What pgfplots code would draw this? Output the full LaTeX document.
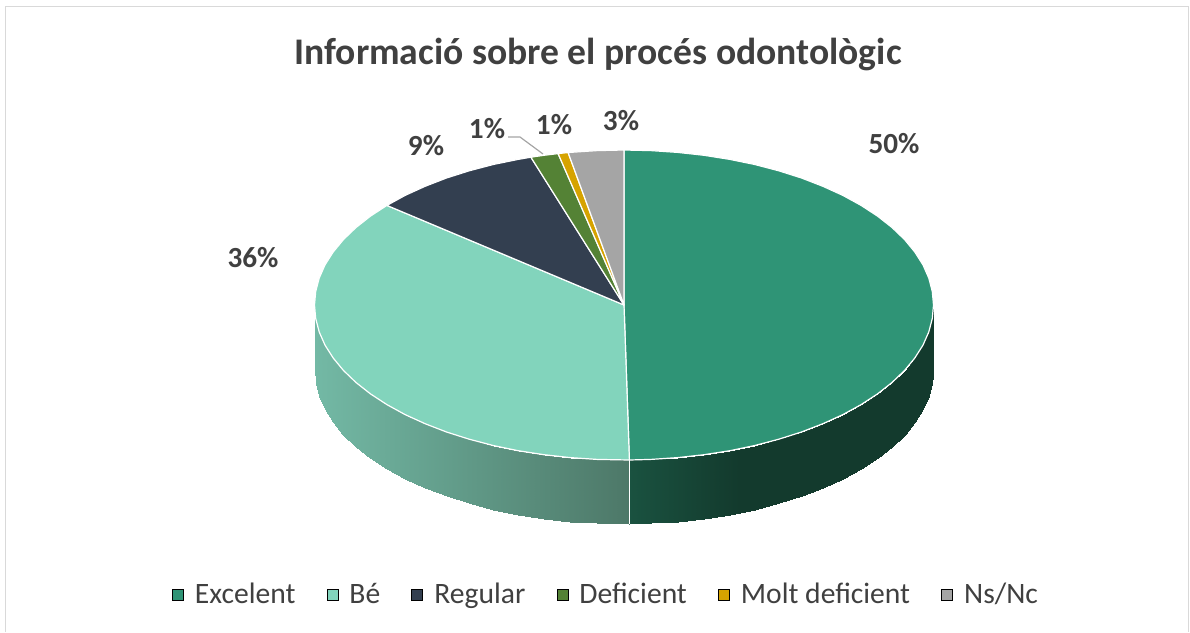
\documentclass[border=0pt]{standalone}
\usepackage{pgfplots}
\pgfplotsset{compat=1.18}
\usepackage{fontspec}
\setmainfont{Carlito}
\definecolor{cExc}{RGB}{47,148,118}
\definecolor{cBe}{RGB}{130,212,188}
\definecolor{cReg}{RGB}{51,63,80}
\definecolor{cDef}{RGB}{84,130,53}
\definecolor{cMolt}{RGB}{214,163,0}
\definecolor{cNs}{RGB}{165,165,165}
\definecolor{txt}{RGB}{64,64,64}
\definecolor{bord}{RGB}{217,217,217}
\pgfplotsset{
  colormap={excwall}{rgb255(0)=(26,82,64) rgb255(110)=(19,58,45) rgb255(305)=(19,58,45)},
  colormap={bewall}{rgb255(0)=(115,185,165) rgb255(315)=(77,120,104)},
  wedge/.style={draw=white,line width=0.6pt,line join=round},
}
\begin{document}
\begin{tikzpicture}
\begin{axis}[
  scale only axis,width=595pt,height=316pt,
  xmin=0,xmax=1190,ymin=0,ymax=632,y dir=reverse,
  hide axis,clip=false,
  point meta rel=per plot,
  legend columns=6,
  legend cell align=left,
  legend style={at={(axis cs:607.5,595)},anchor=center,draw=none,fill=none,
    font=\fontsize{14.8}{16}\selectfont\color{txt},inner sep=0pt,
    /tikz/every even column/.append style={column sep=13.1pt},
    /tikz/every odd column/.append style={column sep=0pt},
    nodes={inner xsep=2.5pt,inner ysep=1pt}},
  legend image code/.code={\fill[#1] (0pt,-2.75pt) rectangle (5.5pt,2.75pt);\path (0pt,0pt) (8.5pt,0pt);},
]
% frame
\addplot[bord,line width=0.9pt,forget plot] coordinates {(5.5,632)(5.5,6.5)(1188.5,6.5)(1188.5,632)};
% side walls
\addplot[patch,patch type=rectangle,shader=interp,colormap name=excwall,point meta=x,point meta min=629.4,point meta max=934.4,forget plot] coordinates {
(933.5,305)(932.3,318.5)(932.3,382.5)(933.5,369)
(932.3,318.5)(928.8,331.9)(928.8,395.9)(932.3,382.5)
(928.8,331.9)(923.0,345.1)(923.0,409.1)(928.8,395.9)
(923.0,345.1)(914.8,358.0)(914.8,422.0)(923.0,409.1)
(914.8,358.0)(904.5,370.5)(904.5,434.5)(914.8,422.0)
(904.5,370.5)(892.0,382.5)(892.0,446.5)(904.5,434.5)
(892.0,382.5)(877.5,393.9)(877.5,457.9)(892.0,446.5)
(877.5,393.9)(861.1,404.6)(861.1,468.6)(877.5,457.9)
(861.1,404.6)(842.9,414.6)(842.9,478.6)(861.1,468.6)
(842.9,414.6)(822.9,423.7)(822.9,487.7)(842.9,478.6)
(822.9,423.7)(801.5,432.0)(801.5,496.0)(822.9,487.7)
(801.5,432.0)(778.8,439.2)(778.8,503.2)(801.5,496.0)
(778.8,439.2)(754.8,445.5)(754.8,509.5)(778.8,503.2)
(754.8,445.5)(729.9,450.7)(729.9,514.7)(754.8,509.5)
(729.9,450.7)(704.1,454.7)(704.1,518.7)(729.9,514.7)
(704.1,454.7)(677.7,457.6)(677.7,521.6)(704.1,518.7)
(677.7,457.6)(651.0,459.4)(651.0,523.4)(677.7,521.6)
(651.0,459.4)(629.4,460.0)(629.4,524.0)(651.0,523.4)
};
\addplot[patch,patch type=rectangle,shader=interp,colormap name=bewall,point meta=x,point meta min=314.5,point meta max=629.4,forget plot] coordinates {
(629.4,460.0)(597.0,459.4)(597.0,523.4)(629.4,524.0)
(597.0,459.4)(570.3,457.6)(570.3,521.6)(597.0,523.4)
(570.3,457.6)(543.9,454.7)(543.9,518.7)(570.3,521.6)
(543.9,454.7)(518.1,450.7)(518.1,514.7)(543.9,518.7)
(518.1,450.7)(493.2,445.5)(493.2,509.5)(518.1,514.7)
(493.2,445.5)(469.2,439.2)(469.2,503.2)(493.2,509.5)
(469.2,439.2)(446.5,432.0)(446.5,496.0)(469.2,503.2)
(446.5,432.0)(425.1,423.7)(425.1,487.7)(446.5,496.0)
(425.1,423.7)(405.1,414.6)(405.1,478.6)(425.1,487.7)
(405.1,414.6)(386.9,404.6)(386.9,468.6)(405.1,478.6)
(386.9,404.6)(370.5,393.9)(370.5,457.9)(386.9,468.6)
(370.5,393.9)(356.0,382.5)(356.0,446.5)(370.5,457.9)
(356.0,382.5)(343.5,370.5)(343.5,434.5)(356.0,446.5)
(343.5,370.5)(333.2,358.0)(333.2,422.0)(343.5,434.5)
(333.2,358.0)(325.0,345.1)(325.0,409.1)(333.2,422.0)
(325.0,345.1)(319.2,331.9)(319.2,395.9)(325.0,409.1)
(319.2,331.9)(315.7,318.5)(315.7,382.5)(319.2,395.9)
(315.7,318.5)(314.5,305)(314.5,369)(315.7,382.5)
};
\addplot[white,line width=0.6pt,forget plot] coordinates {(629.4,460)(629.4,524)};
% top wedges
\addplot[fill=cExc,wedge,forget plot] coordinates {(624,305)(624,150)(651.0,150.6)(677.7,152.4)(704.1,155.3)(729.9,159.4)(754.8,164.5)(778.8,170.8)(801.5,178.0)(822.9,186.3)(842.9,195.4)(861.1,205.4)(877.5,216.1)(892.0,227.5)(904.5,239.5)(914.8,252.0)(923.0,264.9)(928.8,278.1)(932.3,291.5)(933.5,305)(932.3,318.5)(928.8,331.9)(923.0,345.1)(914.8,358.0)(904.5,370.5)(892.0,382.5)(877.5,393.9)(861.1,404.6)(842.9,414.6)(822.9,423.7)(801.5,432.0)(778.8,439.2)(754.8,445.5)(729.9,450.7)(704.1,454.7)(677.7,457.6)(651.0,459.4)(629.4,460)} -- cycle;
\addplot[fill=cBe,wedge,forget plot] coordinates {(624,305)(629.4,460)(597.0,459.4)(570.3,457.6)(543.9,454.7)(518.1,450.7)(493.2,445.5)(469.2,439.2)(446.5,432.0)(425.1,423.7)(405.1,414.6)(386.9,404.6)(370.5,393.9)(356.0,382.5)(343.5,370.5)(333.2,358.0)(325.0,345.1)(319.2,331.9)(315.7,318.5)(314.5,305)(315.7,291.5)(319.2,278.1)(325.0,264.9)(333.2,252.0)(343.5,239.5)(356.0,227.5)(370.5,216.1)(386.9,205.4)} -- cycle;
\addplot[fill=cReg,wedge,forget plot] coordinates {(624,305)(386.9,205.4)(405.1,195.4)(425.1,186.3)(446.5,178.0)(469.2,170.8)(493.2,164.5)(518.1,159.4)(530.9,157.2)} -- cycle;
\addplot[fill=cDef,wedge,forget plot] coordinates {(624,305)(530.9,157.2)(543.9,155.3)(558.1,153.6)} -- cycle;
\addplot[fill=cMolt,wedge,forget plot] coordinates {(624,305)(558.1,153.6)(568.1,152.5)} -- cycle;
\addplot[fill=cNs,wedge,forget plot] coordinates {(624,305)(568.1,152.5)(597.0,150.6)(624,150)} -- cycle;
% leader line
\addplot[cNs,line width=0.6pt,forget plot] coordinates {(508,137)(520,137)(543,154)};
% legend
\addlegendimage{fill=cExc}\addlegendentry{Excelent}
\addlegendimage{fill=cBe}\addlegendentry{Bé}
\addlegendimage{fill=cReg}\addlegendentry{Regular}
\addlegendimage{fill=cDef}\addlegendentry{Deficient}
\addlegendimage{fill=cMolt}\addlegendentry{Molt deficient}
\addlegendimage{fill=cNs}\addlegendentry{Ns/Nc}
% texts
\node[font=\fontsize{18.8}{22}\selectfont\bfseries,text=txt] at (axis cs:598,54) {Informació sobre el procés odontològic};
\begin{scope}[every node/.style={font=\fontsize{14.6}{16}\selectfont\bfseries,text=txt}]
\node at (axis cs:894,144) {50\%};
\node at (axis cs:253,258) {36\%};
\node at (axis cs:426,146) {9\%};
\node at (axis cs:487,129) {1\%};
\node at (axis cs:554,125) {1\%};
\node at (axis cs:621,121) {3\%};
\end{scope}
\path (axis cs:0,0) rectangle (axis cs:1190,632);
\end{axis}
\end{tikzpicture}
\end{document}
